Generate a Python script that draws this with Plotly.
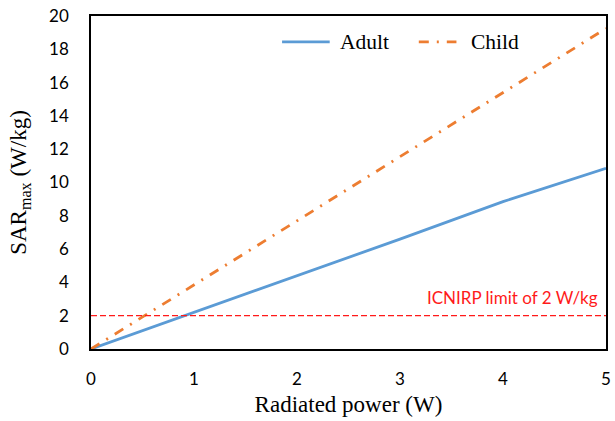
import plotly.graph_objects as go

power = [0, 1, 2, 3, 4, 5]
sar_adult = [0, 2.2, 4.4, 6.6, 8.85, 10.85]
sar_child = [0, 3.85, 7.7, 11.55, 15.4, 19.25]
limit_x = [0, 5]
limit_y = [2, 2]
limit_label = "ICNIRP limit of 2 W/kg"
series_names = ["Adult", "Child"]
series_colors = ["#5b9bd5", "#ed7d31"]
series_dash = ["solid", "10px,8px,2px,8px"]

fig = go.Figure()
fig.add_trace(go.Scatter(x=power, y=sar_adult, mode="lines", name=series_names[0],
                         showlegend=False,
                         line=dict(color=series_colors[0], width=2.8, dash=series_dash[0])))
fig.add_trace(go.Scatter(x=power, y=sar_child, mode="lines", name=series_names[1],
                         showlegend=False,
                         line=dict(color=series_colors[1], width=2.8, dash=series_dash[1])))
fig.add_trace(go.Scatter(x=limit_x, y=limit_y, mode="lines", showlegend=False,
                         line=dict(color="#ff1a1a", width=1.3, dash="6px,3px")))
fig.add_annotation(x=5, y=2, xref="x", yref="y", text=limit_label, showarrow=False,
                   xanchor="right", yanchor="bottom", xshift=-6, yshift=6,
                   font=dict(family="Lato", size=17, color="#ff1a1a"))

# manual legend (paper coordinates)
leg_y = 0.922
leg_items = [(0.371, 0.4635, 0.4788), (0.6365, 0.7096, 0.7346)]
for (x0, x1, xt), name, col, dash in zip(leg_items, series_names, series_colors, series_dash):
    fig.add_shape(type="line", xref="paper", yref="paper", x0=x0, x1=x1, y0=leg_y, y1=leg_y,
                  line=dict(color=col, width=2.8, dash=dash))
    fig.add_annotation(x=xt, y=leg_y, xref="paper", yref="paper", text=name, showarrow=False,
                       xanchor="left", yanchor="middle",
                       font=dict(family="Liberation Serif", size=21.5, color="black"))

tickfont = dict(family="Lato", size=17, color="black")
fig.update_layout(
    width=615, height=421, paper_bgcolor="white", plot_bgcolor="white",
    margin=dict(l=91, r=4, t=16, b=72),
    showlegend=False,
    xaxis=dict(range=[0, 5], tickvals=[0, 1, 2, 3, 4, 5], showgrid=False, zeroline=False,
               showline=True, mirror=True, linecolor="black", linewidth=1.5,
               ticks="outside", ticklen=14, tickcolor="rgba(0,0,0,0)", tickfont=tickfont,
               title=dict(text="Radiated power (W)", standoff=8,
                          font=dict(family="Liberation Serif", size=23, color="black"))),
    yaxis=dict(range=[0, 20], tickvals=list(range(0, 21, 2)), showgrid=False, zeroline=False,
               showline=True, mirror=True, linecolor="black", linewidth=1.5,
               ticks="outside", ticklen=17, tickcolor="rgba(0,0,0,0)", tickfont=tickfont,
               title=dict(text="SAR<sub>max</sub> (W/kg)", standoff=16,
                          font=dict(family="Liberation Serif", size=23, color="black"))),
)
fig.write_html("out.html")
